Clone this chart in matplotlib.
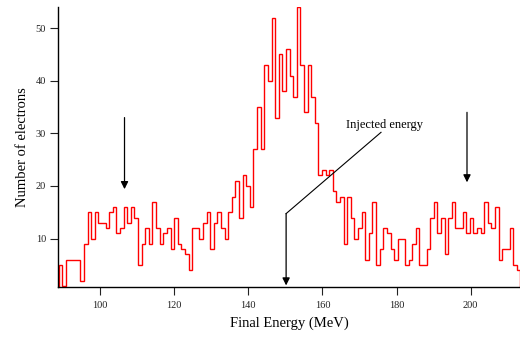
import numpy as np
import matplotlib
matplotlib.use("Agg")
import matplotlib.pyplot as plt

# Histogram of final electron energies (counts per bin)
bin_start = 88.85      # MeV, left edge of first bin
bin_width = 0.973      # MeV
counts = [
    5, 1, 6, 6, 6, 6, 2, 9, 15, 10,
    15, 13, 13, 12, 15, 16, 11, 12, 16, 13,
    16, 14, 5, 9, 12, 9, 17, 12, 9, 11,
    12, 8, 14, 9, 8,
    7, 4, 12, 12, 10, 13, 15, 8, 13, 15,
    12, 10, 15, 18, 21, 14, 22, 20, 16, 27,
    35, 27, 43, 40, 52, 33, 45, 38, 46, 41,
    37, 54, 43, 34, 43, 37, 32,
    22, 23, 22, 23, 19, 17, 18, 9, 18, 14,
    10, 12, 15, 6, 11, 17, 5, 8, 12, 11,
    8, 6, 10, 10, 5, 6, 9, 12, 5, 5,
    8, 14, 17, 11, 14, 7, 14, 17, 12, 12,
    15, 11, 14, 11, 12, 11, 17, 13, 12, 16,
    6, 8, 8, 12, 5, 4,
]
edges = bin_start + bin_width * np.arange(len(counts) + 1)

x_ticks = [100, 120, 140, 160, 180, 200]
y_ticks = [10, 20, 30, 40, 50]

# arrows: (energy, start count, tip count)
marker_arrows = [(106.6, 33.0, 19.4), (199.0, 34.0, 20.7)]
injected_energy = 150.2

plt.rcParams['font.family'] = ['Liberation Serif', 'DejaVu Serif']

fig = plt.figure(figsize=(5.2, 3.39), dpi=100)
ax = fig.add_axes([0.1115, 0.1534, 0.8885, 0.8256])

ax.stairs(counts, edges, color='#ff0000', linewidth=1.0, baseline=0)

ax.set_xlim(88.65, 213.3)
ax.set_ylim(0.8, 54.0)
ax.set_xticks(x_ticks)
ax.set_yticks(y_ticks)
ax.tick_params(direction='out', length=5.5, width=0.8, labelsize=7.5, pad=3,
               colors='#222222')
ax.tick_params(axis='x', pad=4.5)

for side in ['top', 'right']:
    ax.spines[side].set_visible(False)
for side in ['left', 'bottom']:
    ax.spines[side].set_linewidth(1.0)

ax.set_xlabel('Final Energy (MeV)', fontsize=10.5, labelpad=5)
ax.set_ylabel('Number of electrons', fontsize=10.5, labelpad=5)

arrow_style = dict(arrowstyle='-|>', color='black', lw=0.9,
                   mutation_scale=11, shrinkA=0, shrinkB=0)
for xe, y0, y1 in marker_arrows:
    ax.annotate('', xy=(xe, y1), xytext=(xe, y0), arrowprops=arrow_style)

# injected energy label with leader line
ax.plot([injected_energy, 175.8], [14.75, 30.2], color='black', lw=0.8)
ax.annotate('', xy=(injected_energy, 1.1), xytext=(injected_energy, 14.75),
            arrowprops=arrow_style)
ax.text(176.8, 31.6, 'Injected energy', fontsize=9, ha='center', va='center')

fig.savefig('out.png', dpi=100)
